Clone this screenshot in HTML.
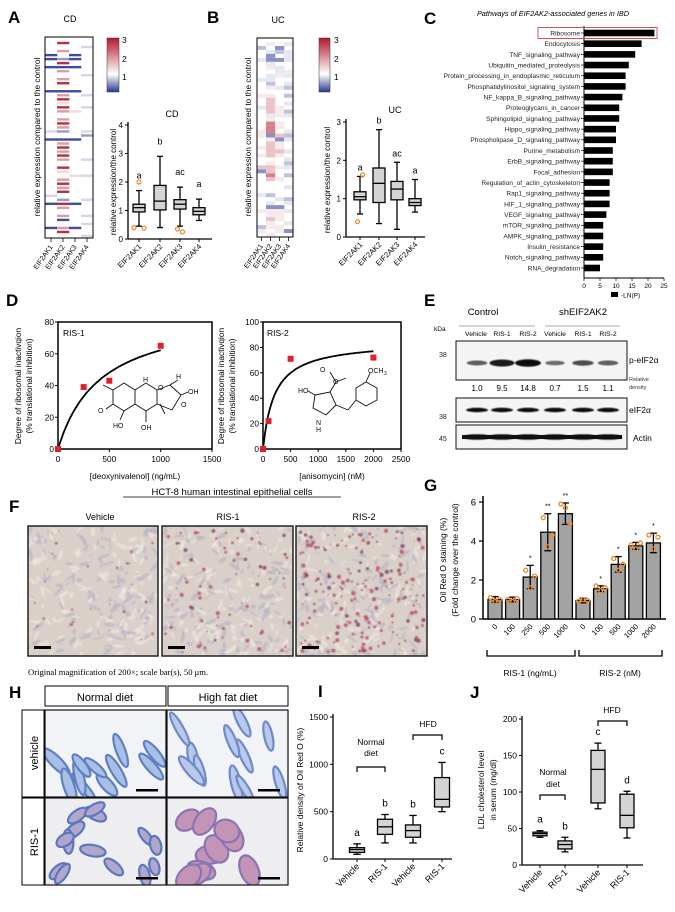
<!DOCTYPE html>
<html><head><meta charset="utf-8"><style>
body{margin:0;background:#fff}
svg{display:block;font-family:"Liberation Sans",Arial,sans-serif}
</style></head><body>
<svg id="fig" width="675" height="912" viewBox="0 0 675 912" xmlns="http://www.w3.org/2000/svg">
<defs id="defs">
<linearGradient id="cbar" x1="0" y1="1" x2="0" y2="0">
<stop offset="0" stop-color="#2b3990"/><stop offset="0.33" stop-color="#ffffff"/><stop offset="1" stop-color="#b2182b"/>
</linearGradient>
<filter id="blur1"><feGaussianBlur stdDeviation="1.2"/></filter>
<filter id="blur05"><feGaussianBlur stdDeviation="0.6"/></filter>
</defs>

<g>
<text x="8" y="23" font-size="17" font-weight="bold">A</text>
<text x="70" y="22" font-size="9" text-anchor="middle">CD</text>
<text transform="translate(40,137) rotate(-90)" font-size="8.3" text-anchor="middle">relative expression compared to the control</text>
<g id="heatCD"></g>
<rect x="107" y="38" width="12" height="54" fill="url(#cbar)" stroke="#333" stroke-width="0.5"/>
<text x="122" y="43" font-size="8.5">3</text>
<text x="122" y="62" font-size="8.5">2</text>
<text x="122" y="80" font-size="8.5">1</text>
<text x="172" y="117" font-size="9" text-anchor="middle">CD</text>
<text transform="translate(116,182) rotate(-90)" font-size="8" text-anchor="middle">relative expression/the control</text>
<g id="boxCD"></g>
</g>

<g>
<text x="207" y="23" font-size="17" font-weight="bold">B</text>
<text x="278" y="23" font-size="9" text-anchor="middle">UC</text>
<text transform="translate(251,137) rotate(-90)" font-size="8.3" text-anchor="middle">relative expression compared to the control</text>
<g id="heatUC"></g>
<rect x="319" y="38" width="11" height="54" fill="url(#cbar)" stroke="#333" stroke-width="0.5"/>
<text x="334" y="43" font-size="8.5">3</text>
<text x="334" y="62" font-size="8.5">2</text>
<text x="334" y="80" font-size="8.5">1</text>
<text x="395" y="113" font-size="9" text-anchor="middle">UC</text>
<text transform="translate(330,180) rotate(-90)" font-size="8" text-anchor="middle">relative expression/the control</text>
<g id="boxUC"></g>
</g>

<g>
<text x="424" y="24" font-size="17" font-weight="bold">C</text>
<text x="553" y="16" font-size="7.3" font-style="italic" text-anchor="middle">Pathways of EIF2AK2-associated genes in IBD</text>
<g id="barC"></g>
<rect x="611" y="292" width="7" height="5" fill="#000"/>
<text x="621" y="297.5" font-size="6.5">-LN(P)</text>
</g>

<g>
<text x="6" y="306" font-size="17" font-weight="bold">D</text>
<g font-size="8.3" text-anchor="middle">
<text transform="translate(21,386) rotate(-90)">Degree of ribosomal inactivqion</text>
<text transform="translate(32,386) rotate(-90)">(% translational inhibition)</text>
<text x="135" y="479">[deoxynivalenol] (ng/mL)</text>
<text transform="translate(224,386) rotate(-90)">Degree of ribosomal inactivqion</text>
<text transform="translate(235,386) rotate(-90)">(% translational inhibition)</text>
<text x="332" y="479">[anisomycin] (nM)</text>
</g>
<text x="63" y="336" font-size="8.5">RIS-1</text>
<text x="267" y="336" font-size="8.5">RIS-2</text>
<g id="dPlots"></g>
<g stroke="#111" stroke-width="0.9" fill="none">
<polyline points="113,390 124,383 135,390 135,404 124,411 113,404 113,390"/>
<polyline points="135,390 146,383 157,390 157,404 146,411 135,404"/>
<polyline points="157,390 170,385 181,395 172,410 157,404"/>
<line x1="113" y1="390" x2="103" y2="385"/>
<line x1="113" y1="404" x2="106" y2="409"/>
<line x1="124" y1="411" x2="120" y2="420"/>
<line x1="146" y1="411" x2="146" y2="422"/>
<line x1="160" y1="404" x2="165" y2="414"/>
<line x1="170" y1="385" x2="178" y2="380"/>
<line x1="181" y1="395" x2="188" y2="392"/>
</g>
<g font-size="7" fill="#111">
<text x="143" y="382">H</text><text x="158" y="390">O</text><text x="176" y="379">H</text>
<text x="188" y="394">OH</text><text x="181" y="407">O</text><text x="98" y="413">O</text>
<text x="113" y="428">HO</text><text x="141" y="430">OH</text>
</g>
<g stroke="#111" stroke-width="0.9" fill="none">
<polyline points="315,395 330,392 336,405 326,415 313,408 315,395"/>
<line x1="330" y1="392" x2="336" y2="382"/><line x1="336" y1="382" x2="330" y2="372"/><line x1="336" y1="382" x2="346" y2="378"/>
<line x1="315" y1="395" x2="308" y2="391"/>
<line x1="336" y1="405" x2="348" y2="410"/><line x1="348" y1="410" x2="356" y2="400"/>
<polyline points="356,400 356,388 366,382 377,388 377,400 366,406 356,400"/>
<line x1="366" y1="382" x2="370" y2="373"/>
</g>
<g font-size="7" fill="#111">
<text x="320" y="372">O</text><text x="333" y="384">O</text><text x="298" y="393">HO</text>
<text x="316" y="425">N</text><text x="316" y="432">H</text><text x="368" y="373">OCH</text><text x="384" y="375" font-size="5">3</text>
</g>
</g>

<g>
<text x="424" y="306" font-size="17" font-weight="bold">E</text>
<text x="483" y="315" font-size="9.5" text-anchor="middle">Control</text>
<text x="583" y="315" font-size="9.5" text-anchor="middle">shEIF2AK2</text>
<line x1="459" y1="326" x2="535" y2="326" stroke="#555" stroke-width="0.6"/>
<line x1="545" y1="326" x2="620" y2="326" stroke="#555" stroke-width="0.6"/>
<text x="434" y="331" font-size="6.5">kDa</text>
<g font-size="6.8" text-anchor="middle">
<text x="476" y="336">Vehicle</text><text x="502" y="336">RIS-1</text><text x="528" y="336">RIS-2</text>
<text x="555" y="336">Vehicle</text><text x="583" y="336">RIS-1</text><text x="608" y="336">RIS-2</text>
</g>
<rect x="456" y="341" width="171" height="39" fill="#f4f4f4" stroke="#111" stroke-width="1"/>
<rect x="456" y="398" width="171" height="24" fill="#f4f4f4" stroke="#111" stroke-width="1"/>
<rect x="456" y="425" width="171" height="24" fill="#f4f4f4" stroke="#111" stroke-width="1"/>
<g id="bands"></g>
<g font-size="7" fill="#222">
<text x="439" y="357">38</text>
<text x="439" y="419">38</text>
<text x="439" y="441">45</text>
</g>
<text x="629" y="363" font-size="8.5">p-eIF2α</text>
<text x="629" y="381" font-size="5.5" fill="#333">Relative</text>
<text x="629" y="389" font-size="5.5" fill="#333">density</text>
<text x="629" y="413" font-size="8.5">eIF2α</text>
<text x="633" y="441" font-size="8.5">Actin</text>
<g id="densities" font-size="8" text-anchor="middle"></g>
</g>

<g>
<text x="232" y="495" font-size="9.5" text-anchor="middle">HCT-8 human intestinal epithelial cells</text>
<line x1="123" y1="497" x2="341" y2="497" stroke="#000" stroke-width="0.7"/>
<text x="9" y="512" font-size="17" font-weight="bold">F</text>
<text x="100" y="520" font-size="9" text-anchor="middle">Vehicle</text>
<text x="228" y="520" font-size="9" text-anchor="middle">RIS-1</text>
<text x="364" y="520" font-size="9" text-anchor="middle">RIS-2</text>
<g id="micF"></g>
<text x="28" y="675" font-size="8.6" font-family="Liberation Serif, serif">Original magnification of 200×; scale bar(s), 50 μm.</text>
</g>

<g>
<text x="424" y="491" font-size="17" font-weight="bold">G</text>
<text transform="translate(446,560) rotate(-90)" font-size="8.5" text-anchor="middle">Oil Red O staining (%)</text>
<text transform="translate(458,560) rotate(-90)" font-size="8.5" text-anchor="middle">(Fold change over the control)</text>
<g id="barG"></g>
<text x="530" y="676" font-size="8.5" text-anchor="middle">RIS-1 (ng/mL)</text>
<text x="620" y="676" font-size="8.5" text-anchor="middle">RIS-2 (nM)</text>
</g>

<g>
<text x="9" y="698" font-size="17" font-weight="bold">H</text>
<rect x="45" y="686" width="121" height="20" fill="#fff" stroke="#000"/>
<rect x="168" y="686" width="120" height="20" fill="#fff" stroke="#000"/>
<text x="105" y="701" font-size="11" text-anchor="middle">Normal diet</text>
<text x="228" y="701" font-size="11" text-anchor="middle">High fat diet</text>
<rect x="22" y="710" width="22" height="87" fill="#fff" stroke="#000"/>
<rect x="22" y="798" width="22" height="87" fill="#fff" stroke="#000"/>
<text transform="translate(38,753) rotate(-90)" font-size="11" text-anchor="middle">vehicle</text>
<text transform="translate(38,842) rotate(-90)" font-size="11" text-anchor="middle">RIS-1</text>
<g id="micH"></g>
</g>

<g>
<text x="318" y="697" font-size="17" font-weight="bold">I</text>
<text transform="translate(303,790) rotate(-90)" font-size="8.5" text-anchor="middle">Relative density of Oil Red O (%)</text>
<g id="boxI"></g>
<text x="371" y="745" font-size="8.5" text-anchor="middle">Normal</text>
<text x="371" y="756" font-size="8.5" text-anchor="middle">diet</text>
<text x="428" y="727" font-size="8.5" text-anchor="middle">HFD</text>
<polyline points="357,772 357,767 385,767 385,772" fill="none" stroke="#000" stroke-width="1.2"/>
<polyline points="413,740 413,735 442,735 442,740" fill="none" stroke="#000" stroke-width="1.2"/>
</g>

<g>
<text x="470" y="698" font-size="17" font-weight="bold">J</text>
<text transform="translate(484,790) rotate(-90)" font-size="8.5" text-anchor="middle">LDL cholesterol level</text>
<text transform="translate(496,790) rotate(-90)" font-size="8.5" text-anchor="middle">in serum (mg/dl)</text>
<g id="boxJ"></g>
<text x="553" y="775" font-size="8.5" text-anchor="middle">Normal</text>
<text x="553" y="787" font-size="8.5" text-anchor="middle">diet</text>
<text x="612" y="713" font-size="8.5" text-anchor="middle">HFD</text>
<polyline points="540,800 540,795 565,795 565,800" fill="none" stroke="#000" stroke-width="1.2"/>
<polyline points="598,726 598,721 627,721 627,726" fill="none" stroke="#000" stroke-width="1.2"/>
</g>
</svg>

<script>
// ---------- DATA ----------
const geneCats = ["EIF2AK1","EIF2AK2","EIF2AK3","EIF2AK4"];
const cdK1 = "....BB.B.....B.........l.B.............l.B.....B..".split("");
const cdK2 = ".R.r.bRBr.rR.BrRpRr.rRrb.BrRrRr.Rp.rRrR.bRr.rB.rR.".split("");
const cdK3 = "....BB.B.....B....p......B........p......B.....B..".split("");
const cdK4 = "..l......l....l..l.....lb.....l...l.....l...l.l..l".split("");
const ucK1 = "..b..l....l...p..l.....pp..p.p..rB.....l...p...bp.".split("");
const ucK2 = ".p.lBBlp.llbp.prrrrlpRRRBprrrr.prrRr...b.lBpprpp.p".split("");
const ucK3 = "..Bb.B.llp..l....ppp.pp.rBpprp..p..p....l.Bppp.pp.".split("");
const ucK4 = ".l.lll..pl.lb.b.l.bl...lbl..l.lbl.b..l..bl.l..l.B.".split("");
const codeVal = {B:0.1,b:0.5,l:0.8,".":1,p:1.3,r:1.8,R:2.7};

const cdMin=[0.45,0.4,0.45,0.65], cdQ1=[0.95,1.02,1.05,0.85], cdMed=[1.1,1.33,1.22,0.97], cdQ3=[1.22,1.88,1.38,1.1], cdMax=[1.7,2.9,1.82,1.4];
const cdOut=[[0.4,2.0,0.38],[],[0.35,0.25],[]];
const cdLetters=["a","b","ac","a"];
const ucMin=[0.6,0.35,0.2,0.65], ucQ1=[0.97,0.9,0.97,0.82], ucMed=[1.05,1.4,1.25,0.9], ucQ3=[1.18,1.8,1.45,1.0], ucMax=[1.58,2.8,1.95,1.5];
const ucOut=[[0.4,1.62],[],[],[]];
const ucLetters=["a","b","ac","a"];

const pathways=["Ribosome","Endocytosis","TNF_signaling_pathway","Ubiquitin_mediated_proteolysis","Protein_processing_in_endoplasmic_reticulum","Phosphatidylinositol_signaling_system","NF_kappa_B_signaling_pathway","Proteoglycans_in_cancer","Sphingolipid_signaling_pathway","Hippo_signaling_pathway","Phospholipase_D_signaling_pathway","Purine_metabolism","ErbB_signaling_pathway","Focal_adhesion","Regulation_of_actin_cytoskeleton","Rap1_signaling_pathway","HIF_1_signaling_pathway","VEGF_signaling_pathway","mTOR_signaling_pathway","AMPK_signaling_pathway","Insulin_resistance","Notch_signaling_pathway","RNA_degradation"];
const pathwayVals=[22,18,16,14,13,13,12,11,11,10,10,9,9,9,8,8,8,7,6,6,6,6,5];
const cTicks=[0,5,10,15,20,25];

const donDose=[0,250,500,1000], donInh=[0,39,43,65];
const aniDose=[0,100,500,2000], aniInh=[0,22,71,72];
const donVmax=88, donKm=414, aniVmax=85, aniKm=209;

const pBand=[0.45,0.9,1.0,0.35,0.55,0.45];
const densityVals=["1.0","9.5","14.8","0.7","1.5","1.1"];

const gCats=["0","100","250","500","1000","0","100","500","1000","2000"];
const gVals=[1.0,1.0,2.15,4.45,5.4,0.95,1.55,2.8,3.75,3.9];
const gErr=[0.15,0.12,0.6,0.95,0.55,0.12,0.15,0.4,0.18,0.5];
const gPts=[[1.1,0.9,1.0],[1.0,0.9,1.05],[2.5,1.6,2.2],[5.2,3.7,4.3],[5.9,5.7,4.9],[0.9,1.0,0.95],[1.7,1.45,1.6],[3.1,2.5,2.8],[3.8,3.6,3.9],[4.3,3.6,4.2]];
const gStars=["","","*","**","**","","*","*","*","*"];
const gTicks=[0,2,4,6];

const hCats=["Vehicle","RIS-1","Vehicle","RIS-1"];
const iMin=[50,170,170,500], iQ1=[70,260,230,550], iMed=[100,340,300,630], iQ3=[120,420,360,860], iMax=[160,470,460,1020];
const iLetters=["a","b","b","c"]; const iTicks=[0,500,1000,1500];
const jMin=[38,18,77,37], jQ1=[40,22,85,51], jMed=[43,28,131,68], jQ3=[45,33,157,97], jMax=[47,38,167,101];
const jLetters=["a","b","c","d"]; const jTicks=[0,50,100,150,200];

// ---------- HELPERS ----------
const NS="http://www.w3.org/2000/svg";
function mk(parent,tag,attrs,name){
  const el=document.createElementNS(NS,tag);
  for(const k in attrs) el.setAttribute(k,attrs[k]);
  
  
  parent.appendChild(el); return el;
}
function txt(parent,x,y,s,size,anchor,name,extra){
  const t=mk(parent,'text',Object.assign({x:x,y:y,'font-size':size,'text-anchor':anchor||'start'},extra||{}),name);
  t.textContent=s; return t;
}
function lin(d0,d1,r0,r1){return v=>r0+(v-d0)/(d1-d0)*(r1-r0);}
function mix(a,b,t){return a.map((v,i)=>Math.round(v+(b[i]-v)*t));}
function heatColor(v,soft){
  const w=[255,255,255];
  let c; if(v<1){c=mix(w,[43,57,144],Math.min(1,(1-v)/0.9)*soft);} else {c=mix(w,[178,24,43],Math.min(1,(v-1)/1.7)*soft);}
  return `rgb(${c[0]},${c[1]},${c[2]})`;
}
let clipN=0;
function clipGroup(parent,x,y,w,h,name){
  const defs=document.getElementById('defs');
  const id='clip'+(clipN++);
  const cp=mk(defs,'clipPath',{id:id},'clip-path');
  mk(cp,'rect',{x:x,y:y,width:w,height:h},'clip-rect');
  return mk(parent,'g',{'clip-path':`url(#${id})`},name);
}

// ---------- HEATMAPS ----------
function heatmap(id,x0,y0,w,h,cols,nrows,soft,frac){
  const g=document.getElementById(id);
  const cw=w/cols.length, rh=h/nrows;
  cols.forEach((col,ci)=>{
    for(let r=0;r<nrows;r++){
      const v=codeVal[col[r]||"."];
      if(v===1) continue;
      mk(g,'rect',{x:x0+ci*cw,y:y0+r*rh+rh*(1-frac)/2,width:cw+0.3,height:rh*frac,fill:heatColor(v,soft)},'heat-cell');
    }
  });
  mk(g,'rect',{x:x0,y:y0,width:w,height:h,fill:'none',stroke:'#000','stroke-width':1},'heatmap-frame');
  geneCats.forEach((c,ci)=>{
    const cx=x0+(ci+0.5)*cw;
    mk(g,'line',{x1:cx,y1:y0+h,x2:cx,y2:y0+h+4,stroke:'#000','stroke-width':0.8},'heat-tick');
    txt(g,0,0,c,7,'end','heat-tick-label',{transform:`translate(${cx+2},${y0+h+9}) rotate(-55)`});
  });
}
heatmap('heatCD',45,37,48,201,[cdK1,cdK2,cdK3,cdK4],50,0.9,0.6);
heatmap('heatUC',257,38,36,199,[ucK1,ucK2,ucK3,ucK4],50,0.55,1);

// ---------- BOX PLOTS ----------
function boxplot(id,o){
  const g=document.getElementById(id);
  const y=lin(o.d0,o.d1,o.y0,o.y1);
  mk(g,'line',{x1:o.ax,y1:o.y0,x2:o.ax,y2:o.y1-3,stroke:'#000','stroke-width':1.3},'y-axis');
  mk(g,'line',{x1:o.ax,y1:o.y0,x2:o.axEnd,y2:o.y0,stroke:'#000','stroke-width':1.3},'x-axis');
  o.ticks.forEach(t=>{
    mk(g,'line',{x1:o.ax-3,y1:y(t),x2:o.ax,y2:y(t),stroke:'#000','stroke-width':1},'y-tick');
    txt(g,o.ax-5,y(t)+3,String(t),o.fs||8,'end','y-tick-label');
  });
  o.cats.forEach((c,i)=>{
    const cx=o.xs[i], bw=o.bw;
    mk(g,'line',{x1:cx,y1:o.y0,x2:cx,y2:o.y0+3,stroke:'#000','stroke-width':1},'x-tick');
    txt(g,0,0,c,o.lfs||7.5,'end','x-tick-label',{transform:`translate(${cx+3},${o.y0+8}) rotate(-45)`});
    mk(g,'line',{x1:cx,y1:y(o.min[i]),x2:cx,y2:y(o.max[i]),stroke:'#000','stroke-width':1.3},'whisker');
    mk(g,'line',{x1:cx-bw/4,y1:y(o.min[i]),x2:cx+bw/4,y2:y(o.min[i]),stroke:'#000','stroke-width':1.3},'whisker-cap');
    mk(g,'line',{x1:cx-bw/4,y1:y(o.max[i]),x2:cx+bw/4,y2:y(o.max[i]),stroke:'#000','stroke-width':1.3},'whisker-cap');
    mk(g,'rect',{x:cx-bw/2,y:y(o.q3[i]),width:bw,height:y(o.q1[i])-y(o.q3[i]),fill:'#d4d4d4',stroke:'#000','stroke-width':1.3},'box');
    mk(g,'line',{x1:cx-bw/2,y1:y(o.med[i]),x2:cx+bw/2,y2:y(o.med[i]),stroke:'#000','stroke-width':1.3},'median');
    if(o.out) o.out[i].forEach((v,k)=>{
      mk(g,'circle',{cx:cx+(k-0.5*(o.out[i].length-1))*5,cy:y(v),r:2,fill:'none',stroke:'#e8892c','stroke-width':1.2},'outlier');
    });
    txt(g,cx,y(o.max[i])-(o.lgap||6),o.letters[i],o.lsz||9,'middle','group-letter');
  });
}
boxplot('boxCD',{d0:0,d1:4,y0:239,y1:125,ax:128,axEnd:212,ticks:[0,1,2,3,4],cats:geneCats,xs:[139,160,180,199],bw:12,min:cdMin,q1:cdQ1,med:cdMed,q3:cdQ3,max:cdMax,out:cdOut,letters:cdLetters,lgap:12});
boxplot('boxUC',{d0:0,d1:3,y0:237,y1:122,ax:346,axEnd:425,ticks:[0,1,2,3],cats:geneCats,xs:[360,379,397,415],bw:12,min:ucMin,q1:ucQ1,med:ucMed,q3:ucQ3,max:ucMax,out:ucOut,letters:ucLetters,lgap:6});
boxplot('boxI',{d0:0,d1:1500,y0:859,y1:717,ax:333,axEnd:452,ticks:iTicks,cats:hCats,xs:[357,385,413,442],bw:15,min:iMin,q1:iQ1,med:iMed,q3:iQ3,max:iMax,letters:iLetters,lgap:8,fs:8.5,lfs:9,lsz:10});
boxplot('boxJ',{d0:0,d1:200,y0:865,y1:719,ax:522,axEnd:643,ticks:jTicks,cats:hCats,xs:[540,565,598,627],bw:14,min:jMin,q1:jQ1,med:jMed,q3:jQ3,max:jMax,letters:jLetters,lgap:8,fs:8.5,lfs:9,lsz:10});

// ---------- PANEL C ----------
(function(){
  const g=document.getElementById('barC');
  const x=lin(0,25,584,664);
  const rowY=i=>33+i*(235/22);
  mk(g,'line',{x1:584,y1:26,x2:584,y2:278,stroke:'#000','stroke-width':1},'c-y-axis');
  mk(g,'line',{x1:584,y1:278,x2:664,y2:278,stroke:'#000','stroke-width':1},'c-x-axis');
  pathways.forEach((p,i)=>{
    const cy=rowY(i);
    mk(g,'rect',{x:584,y:cy-3.3,width:x(pathwayVals[i])-584,height:6.6,fill:'#000'},'pathway-bar');
    mk(g,'line',{x1:581,y1:cy,x2:584,y2:cy,stroke:'#000','stroke-width':0.7},'c-tick');
    txt(g,580,cy+2.4,p,6.6,'end','pathway-label',{fill:'#222'});
  });
  cTicks.forEach(t=>{
    mk(g,'line',{x1:x(t),y1:278,x2:x(t),y2:281,stroke:'#000','stroke-width':0.7},'c-x-tick');
    txt(g,x(t),288,String(t),6.5,'middle','c-x-tick-label');
  });
  mk(g,'rect',{x:538,y:rowY(0)-5.5,width:119,height:11,fill:'none',stroke:'#d0505a','stroke-width':1},'ribosome-highlight');
})();

// ---------- PANEL D ----------
(function(){
  const g=document.getElementById('dPlots');
  function plot(o){
    const x=lin(0,o.xmax,o.x0,o.x1), y=lin(0,o.ymax,449,322);
    mk(g,'rect',{x:o.x0,y:322,width:o.x1-o.x0,height:127,fill:'none',stroke:'#000','stroke-width':1.5},'d-frame');
    o.yt.forEach(t=>{mk(g,'line',{x1:o.x0-3,y1:y(t),x2:o.x0,y2:y(t),stroke:'#000'},'d-y-tick');txt(g,o.x0-4,y(t)+3,String(t),8.3,'end','d-y-tick-label');});
    o.xt.forEach(t=>{mk(g,'line',{x1:x(t),y1:449,x2:x(t),y2:452,stroke:'#000'},'d-x-tick');txt(g,x(t),462,String(t),8.3,'middle','d-x-tick-label');});
    let d="";
    for(let k=0;k<=80;k++){const v=o.cmax*k/80;const yy=o.vmax*v/(o.km+v);d+=(k?"L":"M")+x(v).toFixed(1)+","+y(yy).toFixed(1);}
    mk(g,'path',{d:d,fill:'none',stroke:'#000','stroke-width':1.8},'fit-curve');
    o.dose.forEach((dv,i)=>mk(g,'rect',{x:x(dv)-3,y:y(o.inh[i])-3,width:6,height:6,fill:'#e2202c'},'data-point'));
  }
  plot({x0:58,x1:212,xmax:1500,ymax:80,yt:[0,20,40,60,80],xt:[0,500,1000,1500],dose:donDose,inh:donInh,vmax:donVmax,km:donKm,cmax:1000});
  plot({x0:263,x1:401,xmax:2500,ymax:100,yt:[0,20,40,60,80,100],xt:[0,500,1000,1500,2000,2500],dose:aniDose,inh:aniInh,vmax:aniVmax,km:aniKm,cmax:2000});
})();

// ---------- PANEL E ----------
(function(){
  const g=document.getElementById('bands');
  const lanes=[477,502,528,555,583,608];
  lanes.forEach((lx,i)=>{
    const b=pBand[i];
    mk(g,'ellipse',{cx:lx,cy:363,rx:8+5*b,ry:1.5+2.2*b,fill:`rgba(0,0,0,${0.35+0.6*b})`,filter:'url(#blur05)'},'p-eif2a-band');
    mk(g,'ellipse',{cx:lx,cy:410,rx:11,ry:2.2,fill:'#111',filter:'url(#blur05)'},'eif2a-band');
    mk(g,'ellipse',{cx:lx,cy:437,rx:14,ry:2.8,fill:'#111',filter:'url(#blur05)'},'actin-band');
    txt(document.getElementById('densities'),lx,391,densityVals[i],8,'middle','density-value');
  });
  mk(g,'rect',{x:462,y:435,width:160,height:4,fill:'#111'},'actin-smear');
})();

// ---------- PANEL G ----------
(function(){
  const g=document.getElementById('barG');
  const y=lin(0,6,619,502);
  const xc=i=>495+i*17.6;
  mk(g,'line',{x1:483,y1:619,x2:483,y2:496,stroke:'#000','stroke-width':1.5},'g-y-axis');
  mk(g,'line',{x1:483,y1:619,x2:666,y2:619,stroke:'#000','stroke-width':1.5},'g-x-axis');
  gTicks.forEach(t=>{mk(g,'line',{x1:479,y1:y(t),x2:483,y2:y(t),stroke:'#000','stroke-width':1.2},'g-y-tick');txt(g,476,y(t)+3.5,String(t),9.5,'end','g-y-tick-label');});
  gCats.forEach((c,i)=>{
    const cx=xc(i);
    mk(g,'rect',{x:cx-7,y:y(gVals[i]),width:14,height:619-y(gVals[i]),fill:'#a3a3a3',stroke:'#000','stroke-width':1.3},'g-bar');
    mk(g,'line',{x1:cx,y1:y(gVals[i]-gErr[i]),x2:cx,y2:y(gVals[i]+gErr[i]),stroke:'#000','stroke-width':1.3},'g-errorbar');
    [gVals[i]-gErr[i],gVals[i]+gErr[i]].forEach(v=>mk(g,'line',{x1:cx-3.5,y1:y(v),x2:cx+3.5,y2:y(v),stroke:'#000','stroke-width':1.3},'g-error-cap'));
    gPts[i].forEach((v,k)=>mk(g,'circle',{cx:cx+(k-1)*4.5,cy:y(v),r:2,fill:'none',stroke:'#ec8a2a','stroke-width':1.3},'g-point'));
    if(gStars[i]) txt(g,cx,y(gVals[i]+gErr[i])-5,gStars[i],7,'middle','g-significance');
    txt(g,0,0,c,7.5,'end','g-x-tick-label',{transform:`translate(${cx+3},${627}) rotate(-45)`});
  });
  mk(g,'polyline',{points:"487,650 487,656 575,656 575,650",fill:'none',stroke:'#000','stroke-width':1.3},'g-ris1-bracket');
  mk(g,'polyline',{points:"579,650 579,656 662,656 662,650",fill:'none',stroke:'#000','stroke-width':1.3},'g-ris2-bracket');
})();

// ---------- MICROGRAPHS ----------
let seed=7; function rnd(){seed=(seed*16807)%2147483647;return seed/2147483647;}
(function(){
  const g=document.getElementById('micF');
  const panels=[[28,158,25],[162,293,80],[296,427,200]];
  panels.forEach((p,pi)=>{
    const x0=p[0],w=p[1]-p[0],y0=526,h=130;
    const cg=clipGroup(g,x0,y0,w,h,'micrograph');
    mk(cg,'rect',{x:x0,y:y0,width:w,height:h,fill:'#d9d0ca'},'micrograph-bg');
    const tex=mk(cg,'g',{filter:'url(#blur05)'},'cell-texture-group');
    for(let k=0;k<220;k++){
      const cx=x0+rnd()*w, cy=y0+rnd()*h, a=Math.round(rnd()*180);
      mk(tex,'ellipse',{cx:cx,cy:cy,rx:2+rnd()*5,ry:0.8+rnd()*1.5,fill:rnd()<0.5?'#eee6dc':'#bdb6c6',opacity:0.75,transform:`rotate(${a} ${cx} ${cy})`},'cell-texture');
    }
    const dots=mk(cg,'g',{filter:'url(#blur05)'},'lipid-group');
    for(let k=0;k<p[2];k++){
      mk(dots,'circle',{cx:x0+3+rnd()*(w-6),cy:y0+3+rnd()*(h-6),r:0.6+rnd()*(pi?1.6:0.9),fill:rnd()<0.3?'#7a3a58':'#b44a5a',opacity:0.75},'lipid-droplet');
    }
    mk(g,'rect',{x:x0,y:y0,width:w,height:h,fill:'none',stroke:'#222','stroke-width':1.5},'micrograph-frame');
    mk(g,'rect',{x:x0+6,y:y0+h-10,width:17,height:3,fill:'#000'},'scale-bar');
  });
  const gh=document.getElementById('micH');
  const cells=[[45,710,'#5f80c4','#a9bfe4',0],[167,710,'#6f8acb','#b8c9ea',0],[45,798,'#5a78c0','#b2a6cc',1],[167,798,'#8a74b4','#c394b6',2]];
  cells.forEach(c=>{
    const x0=c[0],y0=c[1],w=121,h=87;
    const cg=clipGroup(gh,x0,y0,w,h,'tissue-image');
    mk(cg,'rect',{x:x0,y:y0,width:w,height:h,fill:c[4]===0?'#f2f3f6':'#eeedf0'},'tissue-bg');
    const n=c[4]===2?10:c[4]===1?14:11;
    for(let k=0;k<n;k++){
      const cx=x0+6+rnd()*(w-12), cy=y0+6+rnd()*(h-12), a=c[4]===0?(40+Math.round(rnd()*40)):Math.round(rnd()*180);
      const rx=c[4]===2?12+rnd()*4:c[4]===1?8+rnd()*5:13+rnd()*6, ry=c[4]===2?8+rnd()*3:c[4]===1?4+rnd()*2:3.5+rnd()*2;
      mk(cg,'ellipse',{cx:cx,cy:cy,rx:rx,ry:ry,fill:c[3],stroke:c[2],'stroke-width':2.2,transform:`rotate(${a} ${cx} ${cy})`},'villus');
    }
    mk(gh,'rect',{x:x0,y:y0,width:w,height:h,fill:'none',stroke:'#111','stroke-width':1.2},'tissue-frame');
    mk(gh,'rect',{x:x0+w-30,y:y0+h-8,width:22,height:2.5,fill:'#000'},'tissue-scale-bar');
  });
})();
</script>
</body></html>
